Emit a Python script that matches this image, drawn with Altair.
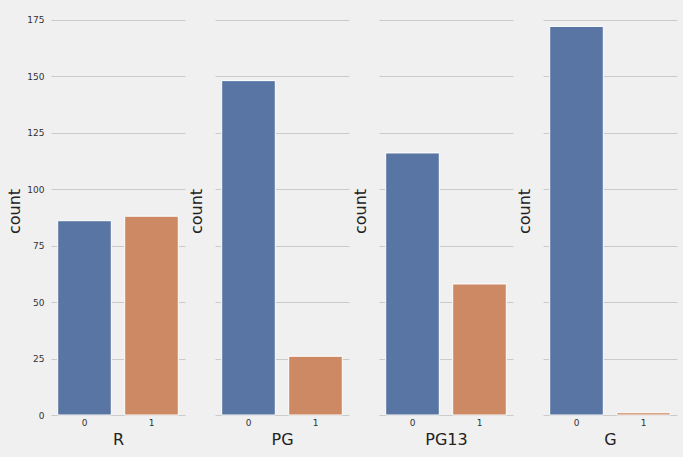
import altair as alt
import pandas as pd

ratings = ["R", "PG", "PG13", "G"]
labels = ["0", "1"]
count_0 = [86, 148, 116, 172]
count_1 = [88, 26, 58, 1]
colors = ["#5975a4", "#cc8963"]
y_ticks = [0, 25, 50, 75, 100, 125, 150, 175]

FONT = "DejaVu Sans"

panels = []
for i, r in enumerate(ratings):
    df = pd.DataFrame({"label": labels, "count": [count_0[i], count_1[i]]})
    first = i == 0
    yaxis = alt.Axis(
        title="count",
        values=y_ticks,
        labels=first,
        titlePadding=4 if first else 11,
        labelPadding=7,
    )
    c = (
        alt.Chart(df)
        .mark_bar(stroke="white", strokeWidth=1)
        .encode(
            x=alt.X(
                "label:N",
                sort=labels,
                title=r,
                scale=alt.Scale(paddingInner=0.2, paddingOuter=0.1),
                axis=alt.Axis(labelAngle=0, grid=False, labelPadding=3, titlePadding=4),
            ),
            y=alt.Y(
                "count:Q",
                scale=alt.Scale(domain=[0, 180.6], nice=False),
                axis=yaxis,
            ),
            color=alt.Color(
                "label:N",
                scale=alt.Scale(domain=labels, range=colors),
                legend=None,
            ),
        )
        .properties(width=134, height=408)
    )
    panels.append(c)

chart = (
    alt.hconcat(*panels, spacing=30, bounds="flush")
    .properties(
        background="#f0f0f0",
        padding={"left": 6, "top": 7, "right": 6, "bottom": 10},
    )
    .configure_view(stroke=None)
    .configure_axis(
        domain=False,
        ticks=False,
        labelFont=FONT,
        titleFont=FONT,
        labelFontSize=9,
        titleFontSize=16,
        titleFontWeight="normal",
        labelColor="#333333",
        titleColor="#222222",
        gridColor="#cbcbcb",
        gridWidth=1,
    )
)

chart.save("out.html", embed_options={"renderer": "svg", "actions": False})
